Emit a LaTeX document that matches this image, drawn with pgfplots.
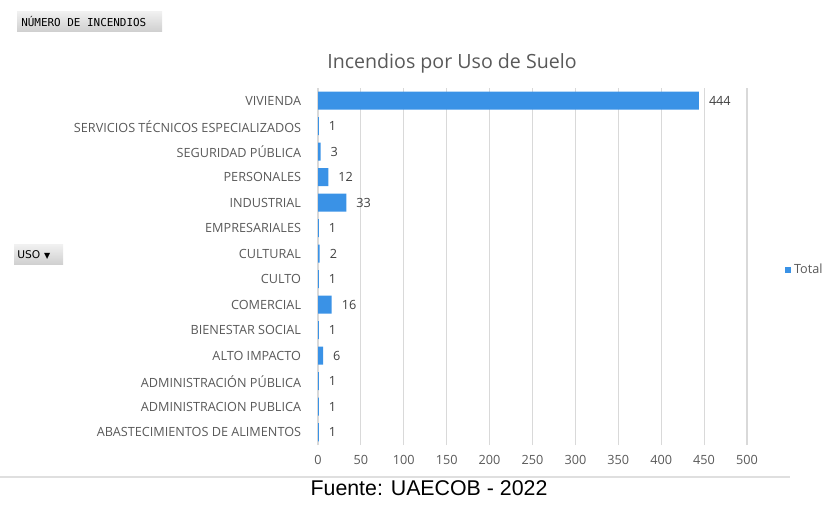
\documentclass[border=0pt]{standalone}
\usepackage{fontspec}
\setmainfont{Open Sans}
\newfontfamily\arialf{Liberation Sans}
\newfontfamily\monof{DejaVu Sans Mono}
\newfontfamily\dejavu{DejaVu Sans}
\usepackage{pgfplots}
\pgfplotsset{compat=1.18}
\definecolor{barblue}{RGB}{58,146,230}
\definecolor{lbl}{RGB}{89,89,89}
\definecolor{vlbl}{RGB}{64,64,64}
\definecolor{gridc}{RGB}{217,217,217}
\begin{document}
\begin{tikzpicture}[x=0.75pt,y=0.75pt]
\useasboundingbox (0,0) rectangle (823,506);
% pivot buttons
\shade[top color=gray!12, bottom color=gray!38] (17,494) rectangle (162,474);
\node[anchor=west, inner sep=0pt, font=\monof\fontsize{8.2}{10}\selectfont] at (21,484) {NÚMERO DE INCENDIOS};
\shade[top color=gray!12, bottom color=gray!38] (14,261) rectangle (63,241);
\node[anchor=west, inner sep=0pt, font=\dejavu\fontsize{8}{10}\selectfont] at (17,251) {USO\hspace{3pt}{\fontsize{6}{8}\selectfont ▼}};
% title
\node[font=\fontsize{14.7}{17}\selectfont, text=lbl] at (452,443) {Incendios por Uso de Suelo};
% separator and source
\draw[gray!25, line width=1.2pt] (0,29) -- (790,29);
\node[font=\arialf\fontsize{16}{19}\selectfont] at (429,18) {Fuente: UAECOB - 2022};
\begin{axis}[
  at={(238.5pt,45.75pt)}, anchor=south west,
  scale only axis, width=321.75pt, height=267.75pt,
  xbar, bar width=13.5pt,
  xmin=0, xmax=500, ymin=-0.5, ymax=13.5,
  enlargelimits=false,
  axis lines=left,
  axis line style={draw=none,-},
  major tick length=0pt,
  xmajorgrids, grid style={gridc, line width=0.8pt},
  xtick={0,50,...,500},
  ytick={0,...,13},
  yticklabels={ABASTECIMIENTOS DE ALIMENTOS, ADMINISTRACION PUBLICA, ADMINISTRACIÓN PÚBLICA, ALTO IMPACTO, BIENESTAR SOCIAL, COMERCIAL, CULTO, CULTURAL, EMPRESARIALES, INDUSTRIAL, PERSONALES, SEGURIDAD PÚBLICA, SERVICIOS TÉCNICOS ESPECIALIZADOS, VIVIENDA},
  yticklabel style={font=\fontsize{9.5}{11}\selectfont, text=lbl, inner sep=0pt, xshift=-12.5pt},
  xticklabel style={font=\fontsize{9.5}{11}\selectfont, text=lbl, yshift=-4pt},
  /pgf/number format/assume math mode=true,
  nodes near coords,
  every node near coord/.append style={font=\fontsize{9.5}{11}\selectfont, text=vlbl, anchor=west, xshift=4pt},
  legend entries={Total},
  legend style={at={(1.088,0.49)}, anchor=west, draw=none, fill=none, inner sep=0pt, font=\fontsize{9.5}{11}\selectfont, text=lbl},
  legend image code/.code={\fill[barblue] (0pt,-2.4pt) rectangle (4.8pt,2.4pt);},
]
\addplot[fill=barblue, draw=none] coordinates {
(1,0) (1,1) (1,2) (6,3) (1,4) (16,5) (1,6) (2,7) (1,8) (33,9) (12,10) (3,11) (1,12) (444,13)
};
\end{axis}
\end{tikzpicture}
\end{document}
